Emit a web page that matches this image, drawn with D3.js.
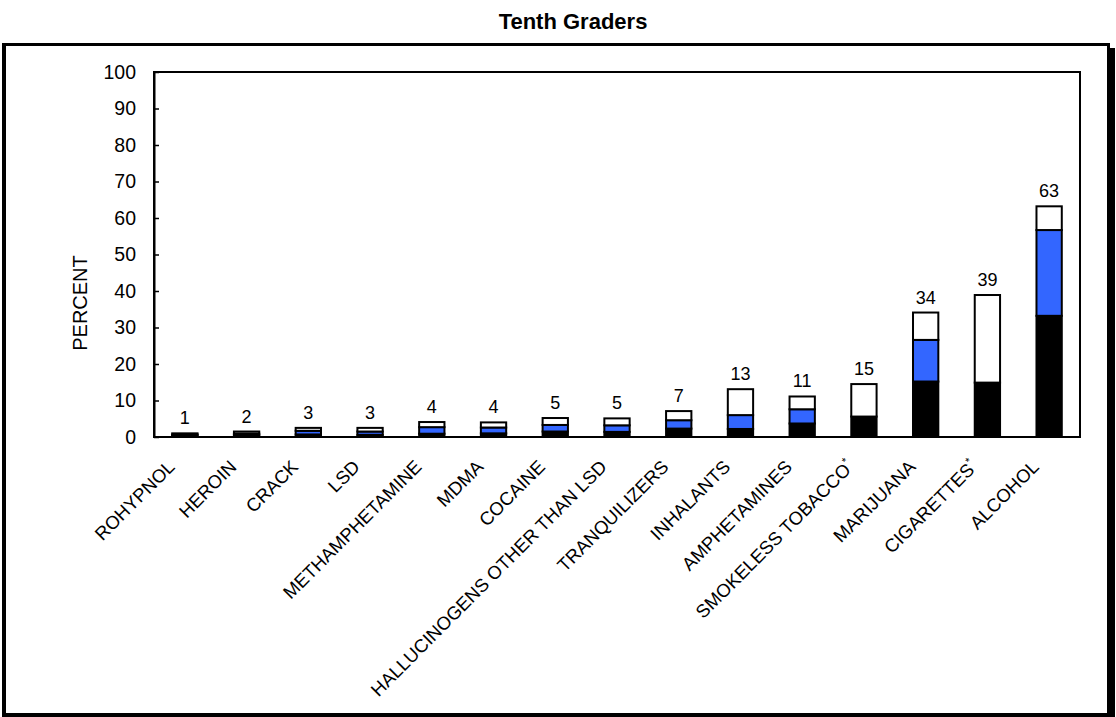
<!DOCTYPE html>
<html>
<head>
<meta charset="utf-8">
<script src="https://cdn.jsdelivr.net/npm/d3@7"></script>
<style>
  html, body { margin: 0; padding: 0; background: #fff; }
  svg { display: block; font-family: "Liberation Sans", Arial, sans-serif; }
</style>
</head>
<body>
<svg id="chart" width="1116" height="717"></svg>
<script>
// ---- data ----
const categories = ["ROHYPNOL", "HEROIN", "CRACK", "LSD", "METHAMPHETAMINE", "MDMA", "COCAINE",
  "HALLUCINOGENS OTHER THAN LSD", "TRANQUILIZERS", "INHALANTS", "AMPHETAMINES",
  "SMOKELESS TOBACCO", "MARIJUANA", "CIGARETTES", "ALCOHOL"];
const starred = ["SMOKELESS TOBACCO", "CIGARETTES"];
// 30-day (black), annual (blue top), lifetime (white top)
const thirtyDay = [0.5, 0.5, 0.7, 0.6, 0.9, 1.0, 1.5, 1.4, 2.3, 2.2, 3.7, 5.6, 15.2, 14.9, 33.2];
const annual    = [0.7, 0.9, 1.7, 1.5, 2.7, 2.6, 3.3, 3.2, 4.6, 6.0, 7.6, null, 26.6, null, 56.7];
const lifetime  = [1.0, 1.5, 2.5, 2.5, 4.1, 4.0, 5.2, 5.1, 7.1, 13.1, 11.1, 14.5, 34.1, 38.9, 63.2];
const yTicks = [0, 10, 20, 30, 40, 50, 60, 70, 80, 90, 100];
const title = "Tenth Graders";
const yTitle = "PERCENT";

// ---- drawing ----
const svg = d3.select("#chart");
const plot = { left: 154, right: 1080, top: 72, bottom: 437 };

// frame with shadow
svg.append("rect").attr("x", 1106).attr("y", 48).attr("width", 9).attr("height", 669).attr("fill", "#000");
svg.append("rect").attr("x", 2).attr("y", 43).attr("width", 1108).attr("height", 674).attr("fill", "#000");
svg.append("rect").attr("x", 6).attr("y", 46).attr("width", 1101).attr("height", 667).attr("fill", "#fff");

svg.append("text").attr("x", 573).attr("y", 29).attr("text-anchor", "middle")
  .attr("font-size", 22).attr("font-weight", "bold").text(title);

const x = d3.scaleBand().domain(categories).range([plot.left, plot.right])
  .paddingInner(0.59).paddingOuter(0.295);
const y = d3.scaleLinear().domain([0, 100]).range([plot.bottom, plot.top]);

// segments
const segs = [];
categories.forEach((c, i) => {
  const b = thirtyDay[i], a = annual[i], l = lifetime[i];
  segs.push({ c, y0: 0, y1: b, fill: "#000" });
  if (a != null) segs.push({ c, y0: b, y1: a, fill: "#3366ff" });
  segs.push({ c, y0: a != null ? a : b, y1: l, fill: "#fff" });
});

svg.append("g").selectAll("rect").data(segs).join("rect")
  .attr("x", d => x(d.c))
  .attr("width", x.bandwidth())
  .attr("y", d => y(d.y1))
  .attr("height", d => y(d.y0) - y(d.y1))
  .attr("fill", d => d.fill)
  .attr("stroke", "#000")
  .attr("stroke-width", 2);

// value labels
svg.append("g").selectAll("text").data(categories).join("text")
  .attr("x", c => x(c) + x.bandwidth() / 2)
  .attr("y", (c, i) => y(lifetime[i]) - 9)
  .attr("text-anchor", "middle")
  .attr("font-size", 18)
  .text((c, i) => Math.round(lifetime[i]));

// plot frame
svg.append("rect").attr("x", plot.left).attr("y", plot.top)
  .attr("width", plot.right - plot.left).attr("height", plot.bottom - plot.top)
  .attr("fill", "none").attr("stroke", "#000").attr("stroke-width", 2);

// y axis
const yAxis = d3.axisLeft(y).tickValues(yTicks).tickSizeInner(-5).tickSizeOuter(0).tickPadding(18);
const gy = svg.append("g").attr("transform", `translate(${plot.left},0)`).call(yAxis);
gy.select(".domain").attr("stroke-width", 2);
gy.selectAll(".tick line").attr("stroke-width", 1.5);
gy.selectAll("text").attr("font-size", 19.5).attr("font-family", "Liberation Sans, Arial, sans-serif");

svg.append("text").attr("transform", `translate(87,303) rotate(-90)`)
  .attr("text-anchor", "middle").attr("font-size", 20).text(yTitle);

// category labels
const cl = svg.append("g").selectAll("text").data(categories).join("text")
  .attr("transform", c => `translate(${x(c) + x.bandwidth() / 2 - 9},${plot.bottom + 31}) rotate(-45)`)
  .attr("text-anchor", "end")
  .attr("font-size", 18.5);
cl.append("tspan").text(c => c);
cl.filter(c => starred.includes(c)).append("tspan")
  .attr("font-size", 11).attr("dy", -8).text("*");
</script>
</body>
</html>
